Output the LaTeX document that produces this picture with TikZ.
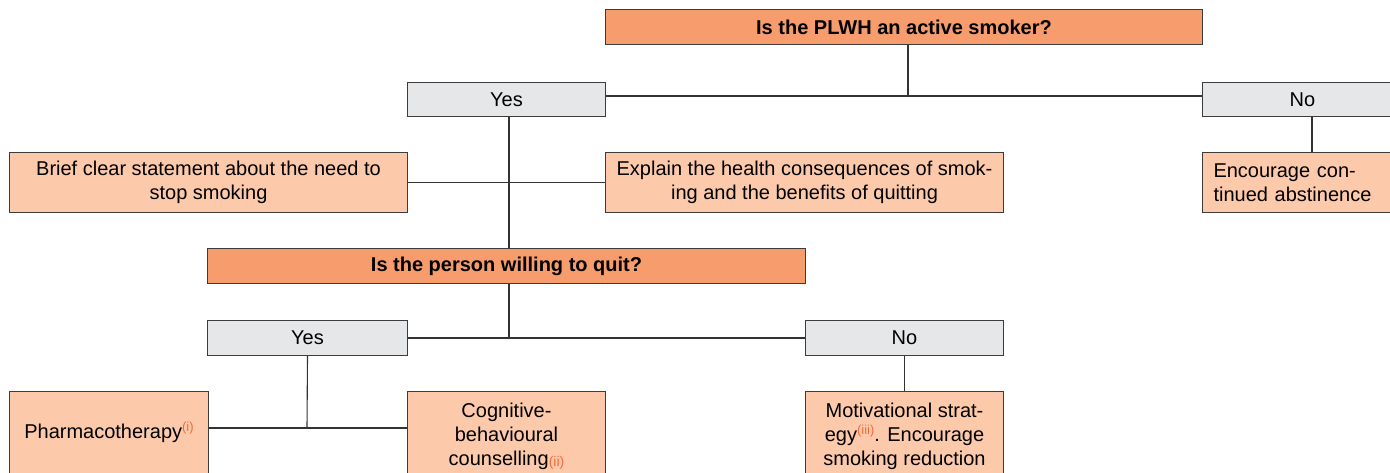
\documentclass[tikz,border=0pt]{standalone}
\usepackage{fontspec}
\setmainfont{Liberation Sans}
\definecolor{qdark}{HTML}{F79C6D}
\definecolor{qlight}{HTML}{FCCAAB}
\definecolor{qgray}{HTML}{E6E7E8}
\definecolor{refc}{HTML}{F26B3A}
\definecolor{edgec}{HTML}{3C3C3C}
\newcommand{\refsup}[1]{\raisebox{7pt}{\fontsize{13}{13}\selectfont\color{refc}#1}}
\newcommand{\refsub}[1]{\raisebox{-1pt}{\fontsize{14}{14}\selectfont\color{refc}#1}}
\tikzset{
  base/.style={draw=edgec, line width=1pt, inner sep=0pt, align=center,
    font=\fontsize{20}{24}\selectfont, anchor=north west},
  qbox/.style={base, fill=qdark, font=\fontsize{20}{24}\selectfont\bfseries},
  abox/.style={base, fill=qgray},
  tbox/.style={base, fill=qlight},
  conn/.style={draw=black!80, line width=1.1pt}
}
\begin{document}
\begin{tikzpicture}[x=1pt,y=-1pt]
\useasboundingbox (0,0) rectangle (1390,472);
\clip (0,0) rectangle (1390,472);
% nodes
\node[qbox, minimum width=597, minimum height=35] (top) at (605,9) {Is the PLWH an active smoker?};
\node[abox, minimum width=198, minimum height=34] (yes1) at (407,82) {Yes};
\node[abox, minimum width=200, minimum height=34] (no1) at (1202,82) {No};
\node[tbox, minimum width=398, minimum height=60] (brief) at (9,152) {Brief clear statement about the need to\\stop smoking};
\node[tbox, minimum width=398, minimum height=60] (explain) at (605,152) {Explain the health consequences of smok-\\ing and the benefits of quitting};
\node[tbox, minimum height=60, text width=178, inner xsep=11pt, align=left] (enc) at (1202,152) {Encourage con-\\tinued abstinence};
\node[qbox, minimum width=598, minimum height=35] (will) at (207,248) {Is the person willing to quit?};
\node[abox, minimum width=200, minimum height=35] (yes2) at (207,320) {Yes};
\node[abox, minimum width=198, minimum height=35] (no2) at (805,320) {No};
\node[tbox, minimum width=199, minimum height=82] (pharma) at (9,391) {Pharmacotherapy\refsup{(i)}};
\node[tbox, minimum width=198, minimum height=90] (cogn) at (407,391) {Cognitive-\\behavioural\\counselling\refsub{(ii)}};
\node[tbox, minimum width=198, minimum height=90] (motiv) at (805,391) {Motivational strat-\\egy\refsup{(iii)}. Encourage\\smoking reduction};
% junction coordinates
\coordinate (j1) at (908,96);
\coordinate (c2) at (1312,0);
\coordinate (c3) at (509,0);
\coordinate (j4) at (307,428);
% connectors
\draw[conn] (top.south -| j1) -- (j1);
\draw[conn] (yes1.east |- j1) -- (no1.west |- j1);
\draw[conn] (no1.south -| c2) -- (enc.north -| c2);
\draw[conn] (yes1.south -| c3) -- (will.north -| c3);
\draw[conn] (brief.east) -- (explain.west);
\draw[conn] (will.south -| c3) -- (c3 |- yes2.east);
\draw[conn] (yes2.east) -- (no2.west);
\draw[conn] (yes2.south) -- (j4);
\draw[conn] (pharma.east |- j4) -- (cogn.west |- j4);
\draw[conn] (no2.south) -- (motiv.north);
\end{tikzpicture}
\end{document}
